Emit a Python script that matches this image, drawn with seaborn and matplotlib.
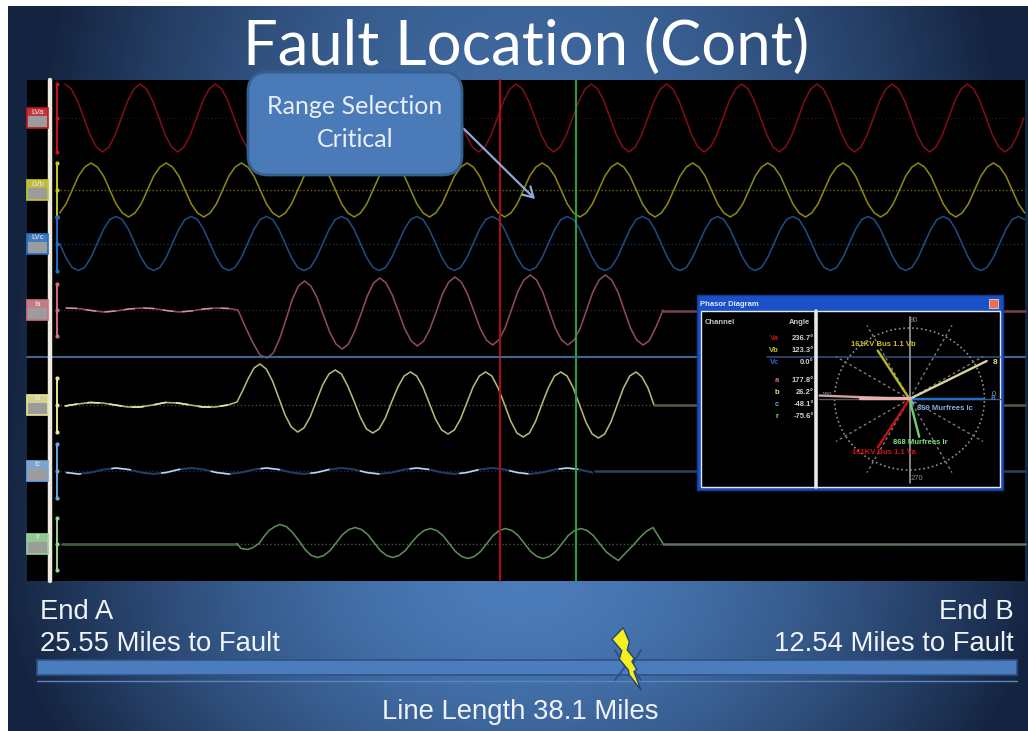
import numpy as np
import matplotlib
matplotlib.use('Agg')
import matplotlib.pyplot as plt
from matplotlib.colors import LinearSegmentedColormap
from matplotlib.patches import FancyBboxPatch, Polygon, Rectangle
import seaborn as sns

# ------------------- Waveforms, read as px above each channel baseline -------------------
STEP = 75.2 / 12

lva_start = 65.0
lva_values = [
    34, 29, 17, 0, -17, -29, -34, -29, -17, 0, 17, 29,
    34, 29, 17, 0, -17, -29, -34, -29, -17, 0, 17, 29,
    34, 29, 17, 0, -17, -29, -34, -29, -17, 0, 17, 29,
    34, 29, 17, 0, -17, -29, -34, -29, -17, 0, 17, 29,
    34, 29, 17, 0, -17, -29, -34, -29, -17, 0, 17, 29,
    34, 29, 17, 0, -17, -29, -34, -29, -17, 0, 17, 29,
    34, 29, 17, 0, -17, -29, -34, -29, -17, 0, 17, 29,
    34, 29, 17, 0, -17, -29, -34, -29, -17, 0, 17, 29,
    34, 29, 17, 0, -17, -29, -34, -29, -17, 0, 17, 29,
    34, 29, 17, 0, -17, -29, -34, -29, -17, 0, 17, 29,
    34, 29, 17, 0, -17, -29, -34, -29, -17, 0, 17, 29,
    34, 29, 17, 0, -17, -29, -34, -29, -17, 0, 17, 29,
    34, 29, 17, 0, -17, -29, -34, -29, -17, 0,
]

lvb_start = 59.7
lvb_values = [
    -23, -14, 0, 14, 23, 27, 23, 14, 0, -14, -23, -27,
    -23, -14, 0, 14, 23, 27, 23, 14, 0, -14, -23, -27,
    -23, -14, 0, 14, 23, 27, 23, 14, 0, -14, -23, -27,
    -23, -14, 0, 14, 23, 27, 23, 14, 0, -14, -23, -27,
    -23, -14, 0, 14, 23, 27, 23, 14, 0, -14, -23, -27,
    -23, -14, 0, 14, 23, 27, 23, 14, 0, -14, -23, -27,
    -23, -14, 0, 14, 23, 27, 23, 14, 0, -14, -23, -27,
    -23, -14, 0, 14, 23, 27, 23, 14, 0, -14, -23, -27,
    -23, -14, 0, 14, 23, 27, 23, 14, 0, -14, -23, -27,
    -23, -14, 0, 14, 23, 27, 23, 14, 0, -14, -23, -27,
    -23, -14, 0, 14, 23, 27, 23, 14, 0, -14, -23, -27,
    -23, -14, 0, 14, 23, 27, 23, 14, 0, -14, -23, -27,
    -23, -14, 0, 14, 23, 27, 23, 14, 0, -14, -23,
]

lvc_start = 59.6
lvc_values = [
    0, -14, -24, -27, -24, -14, 0, 14, 24, 27, 24, 14,
    0, -14, -24, -27, -24, -14, 0, 14, 24, 27, 24, 14,
    0, -14, -24, -27, -24, -14, 0, 14, 24, 27, 24, 14,
    0, -14, -24, -27, -24, -14, 0, 14, 24, 27, 24, 14,
    0, -14, -24, -27, -24, -14, 0, 14, 24, 27, 24, 14,
    0, -14, -24, -27, -24, -14, 0, 14, 24, 27, 24, 14,
    0, -14, -24, -27, -24, -14, 0, 14, 24, 27, 24, 14,
    0, -14, -24, -27, -24, -14, 0, 14, 24, 27, 24, 14,
    0, -14, -24, -27, -24, -14, 0, 14, 24, 27, 24, 14,
    0, -14, -24, -27, -24, -14, 0, 14, 24, 27, 24, 14,
    0, -14, -24, -27, -24, -14, 0, 14, 24, 27, 24, 14,
    0, -14, -24, -27, -24, -14, 0, 14, 24, 27, 24, 14,
    0, -14, -24, -27, -24, -14, 0, 14, 24, 27, 24,
]

# currents: small load before the fault, big swing during, then breaker open
ia_pre = [2, 1.5, -0.5, -2, -1, 1, 2, 1.5, -0.5, -2, -1, 1, 2, 1.5]
ia_fault_x = [238, 245, 253, 260]
ia_fault = [0, -16, -33, -45]
ia_post = [
    -48, -43, -29, -10, 10, 24, 29,
    24, 12, -5, -22, -34, -39,
    -34, -21, -4, 14, 27, 32,
    27, 15, -2, -19, -31, -36,
    -31, -19, -2, 16, 28, 33,
    28, 16, -1, -18, -30, -35,
    -30, -18, 0, 18, 30, 35,
    30, 18, 0, -18, -30, -35,
    -30, -18, 0, 18, 30, 35,
    30, 18, 0, -18, -30, -35,
]
ia_end_x = [649, 656, 663]
ia_end = [-31, -17, 0]

ib_pre = [-1, 1, 2.5, 2, 0, -2, -2, 0, 2.5, 2, 0, -2, -2, 0]
ib_fault_x = [237, 243, 248, 254]
ib_fault = [3, 15, 26, 37]
ib_post = [
    41, 36, 24, 7, -10, -22, -27,
    -23, -12, 4, 20, 31, 35,
    31, 19, 4, -12, -24, -28,
    -24, -13, 3, 18, 29, 33,
    29, 18, 2, -14, -25, -29,
    -25, -14, 2, 18, 29, 33,
    29, 17, 1, -16, -28, -32,
    -28, -16, 1, 17, 29, 33,
    29, 17, 0, -17, -29, -33,
    -29, -17, 0, 17, 29, 33,
]
ib_end_x = [642, 648, 654]
ib_end = [28, 17, 0]

ic_values = [
    -1.5, -3, -1.5, 1.5, 3, 1.5,
    -1.5, -3, -1.5, 1.5, 3, 1.5,
    -1.5, -3, -1.5, 1.5, 3, 1.5,
    -1.5, -3, -1.5, 1.5, 3, 1.5,
    -1.5, -3, -1.5, 1.5, 3, 1.5,
    -1.5, -3, -1.5, 1.5, 3, 1.5,
    -1.5, -3, -1.5, 1.5, 3, 1.5,
    -1.5,
]

ir_fault_x = [237, 241, 248, 253, 259, 264, 269, 275]
ir_fault = [0, -5, -6, -4, 0, 7, 13, 17]
ir_post = [
    19, 17, 11, 3, -6, -12, -14,
    -12, -7, 1, 9, 14, 16,
    14, 9, 1, -7, -12, -14,
    -12, -7, 1, 8, 13, 15,
    13, 8, 0, -8, -13, -15,
    -13, -8, 0, 8, 13, 15,
    13, 8, 0, -8, -13, -15,
    -13, -8, 0, 8, 13, 15,
    13, 8, 0, -8, -13, -17,
]
ir_end_x = [626, 633, 640, 646, 653, 658, 663]
ir_end = [-9, -2, 6, 12, 16, 8, 0]

# ------------------- Channels -------------------
channel_names = ['LVa', 'LVb', 'LVc', 'Ia', 'Ib', 'Ic', 'Ir']
channel_base = [118, 190, 243.5, 310, 405, 471, 543.5]
channel_span = [34, 27, 27, 26, 27, 27, 26]
channel_wave = ['#7d0f16', '#8b8612', '#1c4c80', '#8e4a5c', '#b8b672', '#1f3d62', '#5d8c58']
channel_mark = ['#c8141c', '#c8c820', '#1e6fc8', '#d07080', '#e8e890', '#70a8e0', '#90d890']
channel_grid = ['#3a0a0c', '#6a6a10', '#14304f', '#3d1c24', '#4a4a30', '#1a2f48', '#3e5a3a']

# ------------------- Phasor window values -------------------
phasor_rows = ['Va', 'Vb', 'Vc', 'a', 'b', 'c', 'r']
phasor_angles = [236.7, 123.3, 0.0, 177.8, 26.2, -48.1, -75.6]
phasor_lengths = [58, 58, 74, 90, 86, 6, 39]
phasor_colors = ['#c01418', '#b8b820', '#1f6fd0', '#d8a0a0', '#d8d49a', '#6fa8e0', '#70d070']
spoke_angles = [30, 60, 120, 150, 210, 240, 300, 330]

sns.set_theme(style='white')
plt.rcParams['font.family'] = ['Liberation Sans', 'DejaVu Sans']

fig = plt.figure(figsize=(10.28, 7.31), dpi=100)
ax = fig.add_axes([0, 0, 1, 1])
ax.axis('off')


def draw(xs, ys, color, lw=1.15, ls='-', z=3):
    sns.lineplot(x=np.asarray(xs, dtype=float), y=np.asarray(ys, dtype=float), color=color,
                 linewidth=lw, linestyle=ls, estimator=None, errorbar=None, sort=False,
                 ax=ax, zorder=z)


# ------------------- Slide background -------------------
gx, gy = np.meshgrid(np.arange(8, 1028), np.arange(6, 731))
up = (gy < 580)
dy = np.where(up, (gy - 580) / 1300, (gy - 580) / 350)
t = np.clip(np.sqrt(((gx - 520) / 520) ** 2 + dy ** 2), 0, 1) ** 1.6
slide_cmap = LinearSegmentedColormap.from_list('slide', ['#4b7cba', '#14233f'])
ax.imshow(t, cmap=slide_cmap, extent=(8, 1028, 731, 6), aspect='auto', zorder=0, vmin=0, vmax=1)

ax.text(526, 47, 'Fault Location (Cont)', color='white', fontsize=44.3, family='Lato',
        ha='center', va='center', zorder=6)

# ------------------- Scope panel -------------------
ax.add_patch(Rectangle((27, 80), 998, 501, facecolor='black', edgecolor='none', zorder=1))
for base, col in zip(channel_base, channel_grid):
    draw([60, 1025], [base, base], col, lw=1, ls=':', z=2)

b = channel_base
draw(lva_start + STEP * np.arange(len(lva_values)), b[0] - np.array(lva_values), channel_wave[0])
draw(lvb_start + STEP * np.arange(len(lvb_values)), b[1] - np.array(lvb_values), channel_wave[1])
draw(lvc_start + STEP * np.arange(len(lvc_values)), b[2] - np.array(lvc_values), channel_wave[2])

# Ia
x_pre = 66 + 12.53 * np.arange(len(ia_pre))
x_post = 267 + STEP * np.arange(len(ia_post))
draw(np.r_[x_pre, ia_fault_x, x_post, ia_end_x], b[3] - np.r_[ia_pre, ia_fault, ia_post, ia_end], channel_wave[3])
draw(x_pre, b[3] - np.array(ia_pre), '#c89aa5', lw=1, ls=(0, (8, 6)), z=3.1)
draw([663, 1025], [b[3] + 1, b[3] + 1], '#7a3f4c', lw=1.8)

# Ib
x_pre = 65 + 12.53 * np.arange(len(ib_pre))
x_post = 260 + STEP * np.arange(len(ib_post))
draw(np.r_[x_pre, ib_fault_x, x_post, ib_end_x], b[4] - np.r_[ib_pre, ib_fault, ib_post, ib_end], channel_wave[4])
draw(x_pre, b[4] - np.array(ib_pre), '#e6e4a8', lw=1.15, ls=(0, (8, 6)), z=3.1)
draw([654, 1025], [b[4], b[4]], '#5a5a44', lw=1.8)

# Ic
x_ic = 66 + 12.53 * np.arange(len(ic_values))
draw(x_ic, b[5] - np.array(ic_values), channel_wave[5], lw=1.5)
draw(x_ic, b[5] - np.array(ic_values), '#c6d6ea', lw=1.1, ls=(3, (13, 20)), z=3.1)
draw([595, 1025], [b[5], b[5]], '#2c4058', lw=1.8)

# Ir
x_post = 280 + STEP * np.arange(len(ir_post))
draw([62, 237], [b[6], b[6]], '#3d5c3a', lw=2)
draw(np.r_[ir_fault_x, x_post, ir_end_x], b[6] - np.r_[ir_fault, ir_post, ir_end], channel_wave[6])
draw([663, 1025], [b[6], b[6]], '#5f7560', lw=1.8)

# cursors and the marker line across the panel
draw([500, 500], [80, 581], '#a81016', lw=1.5, z=4)
draw([575.5, 575.5], [80, 581], '#2c9c3c', lw=1.5, z=4)
draw([27, 1025], [357, 357], '#44648f', lw=1.5, z=4.5)

# left strip with channel tabs and range bars
draw([49.5, 49.5], [80, 581], '#efeadf', lw=3.2, z=5)
for name, base, span, col in zip(channel_names, channel_base, channel_span, channel_mark):
    draw([57, 57], [base - span, base + span], col, lw=1.4, z=5)
    sns.scatterplot(x=[57, 57, 57], y=[base - span, base, base + span], color=col, s=9,
                    linewidth=0, marker='o', ax=ax, zorder=5)
    ax.add_patch(Rectangle((27, base - 10), 21, 20, facecolor='#9c9c9c', edgecolor=col, lw=1.2, zorder=5))
    ax.add_patch(Rectangle((27, base - 10), 21, 8, facecolor=col, edgecolor='none', alpha=0.7, zorder=5))
    ax.text(37.5, base - 6, name, color='#f0f0f0', fontsize=5.5, ha='center', va='center', zorder=5.2)

# ------------------- Callout -------------------
ax.add_patch(FancyBboxPatch((260, 84), 190, 79, boxstyle='round,pad=12,rounding_size=20',
                            facecolor='#4a7ab8', edgecolor='#33608f', lw=2, zorder=6))
ax.text(355, 123, 'Range Selection\nCritical', color='#e8eff8', fontsize=18, family='Lato',
        ha='center', va='center', linespacing=1.5, zorder=6.2)
ax.annotate('', xy=(537, 201), xytext=(462, 127), zorder=5.5,
            arrowprops=dict(arrowstyle='->,head_length=0.6,head_width=0.35', color='#8fa9d2', lw=1.6))

# ------------------- Phasor window -------------------
cx, cy = 909.5, 399
ax.add_patch(Rectangle((697, 295), 306, 195, facecolor='#1a50c8', edgecolor='#123c9a', lw=1, zorder=7))
ax.add_patch(Rectangle((701, 311), 299, 176, facecolor='black', edgecolor='#e8e8e8', lw=1, zorder=7.1))
ax.text(700, 304, 'Phasor Diagram', color='#dfe8ff', fontsize=5.5, fontweight='bold', va='center', zorder=8)
ax.add_patch(Rectangle((989, 299), 9, 9, facecolor='#e8704c', edgecolor='#f6d0c0', lw=0.6, zorder=8))
draw([767, 1000], [357, 357], '#2f4a78', lw=1.2, z=7.2)
draw([816, 816], [311, 487], '#e8e8e8', lw=2.6, z=8)

deg = np.arange(0, 365, 5)
draw(cx + 75 * np.cos(np.radians(deg)), cy - 71 * np.sin(np.radians(deg)), '#909090', lw=1.2, ls=':', z=7.3)
for a in spoke_angles:
    draw([cx, cx + 85 * np.cos(np.radians(a))], [cy, cy - 85 * np.sin(np.radians(a))], '#7a7a7a',
         lw=1, ls=(0, (2, 2)), z=7.3)
draw([cx, cx], [317, 483], '#9a9a9a', lw=1.2, z=7.4)
draw([819, 1000], [cy, cy], '#555555', lw=1, z=7.4)
ax.text(914, 321, '90', color='#8c8c8c', fontsize=5.5, ha='center', va='center', zorder=8)
ax.text(917, 478, '270', color='#8c8c8c', fontsize=5.5, ha='center', va='center', zorder=8)
ax.text(827, 394, '180', color='#9a9a9a', fontsize=4.5, ha='center', va='center', zorder=8)
ax.text(994, 394, '0', color='#9a9a9a', fontsize=5.5, ha='center', va='center', zorder=8)

for ang, length, col in zip(phasor_angles, phasor_lengths, phasor_colors):
    tip_x = cx + length * np.cos(np.radians(ang))
    tip_y = cy - length * np.sin(np.radians(ang))
    draw([cx, tip_x], [cy, tip_y], col, lw=1.7, z=7.6)
draw([910, 860], [398, 398], '#e8b0b0', lw=2.4, z=7.7)

ax.text(705, 323, 'Channel', color='#c8c8c8', fontsize=5.5, fontweight='bold', va='center', zorder=8)
ax.text(810, 323, 'Angle', color='#c8c8c8', fontsize=5.5, fontweight='bold', ha='right', va='center', zorder=8)
row_y = [339, 351, 363, 380, 392, 404, 416]
row_col = ['#c01418', '#c8c820', '#1f6fd0', '#d07080', '#e0e090', '#6fa8e0', '#90d890']
for row, ang, y, col in zip(phasor_rows, phasor_angles, row_y, row_col):
    ax.text(779, y, row, color=col, fontsize=5.5, fontweight='bold', ha='right', va='center', zorder=8)
    ax.text(814, y, '%.1f°' % ang, color='#d0d0d0', fontsize=5.5, fontweight='bold', ha='right', va='center', zorder=8)

ax.text(883, 345, '161KV Bus 1.1 Vb', color='#c8c820', fontsize=5.5, fontweight='bold', ha='center', va='center', zorder=8)
ax.text(884, 453, '161KV Bus 1.1 Va', color='#d01418', fontsize=5.5, fontweight='bold', ha='center', va='center', zorder=8)
ax.text(920, 443, '868 Murfrees Ir', color='#80e080', fontsize=5.5, fontweight='bold', ha='center', va='center', zorder=8)
ax.text(945, 408, '869 Murfrees Ic', color='#80b0e0', fontsize=5.5, fontweight='bold', ha='center', va='center', zorder=8)
ax.text(995, 362, '8', color='#e0e090', fontsize=6, fontweight='bold', ha='center', va='center', zorder=8)
ax.text(993, 399, '8', color='#3a80e0', fontsize=6, fontweight='bold', ha='center', va='center', zorder=8)

# ------------------- Line bar and labels -------------------
ax.add_patch(Rectangle((37, 660), 980, 15, facecolor='#4a7cbe', edgecolor='#2d5284', lw=1.2, zorder=2))
draw([37, 1017], [681, 681], '#5a86c0', lw=1, z=2)
# arrow heads meeting under the bolt
draw([615, 625, 615], [650, 667, 680], '#2b4f80', lw=1.3, z=2.5)
draon_x = [641, 631, 641]
draw(draon_x, [650, 667, 680], '#2b4f80', lw=1.3, z=2.5)
bolt = [(623.3, 627.7), (612, 639.3), (621.7, 650.7), (619.3, 659), (628.3, 670), (629.3, 675),
        (641, 690), (634, 671.7), (636.7, 669.3), (632, 661.7), (634, 658.3), (627.3, 650), (629.3, 641.7)]
ax.add_patch(Polygon(bolt, closed=True, facecolor='#f6ee1e', edgecolor='#27446e', lw=1, zorder=3))

label_kw = dict(color='#f0f4fa', fontsize=19.8, va='center', family='Liberation Sans', zorder=6)
ax.text(40, 612, 'End A', ha='left', **label_kw)
ax.text(40, 644, '25.55 Miles to Fault', ha='left', **label_kw)
ax.text(1014, 612, 'End B', ha='right', **label_kw)
ax.text(1014, 644, '12.54 Miles to Fault', ha='right', **label_kw)
ax.text(520, 712, 'Line Length 38.1 Miles', ha='center', **label_kw)

ax.set_xlim(0, 1028)
ax.set_ylim(731, 0)
fig.savefig('out.png', dpi=100, facecolor='white')
